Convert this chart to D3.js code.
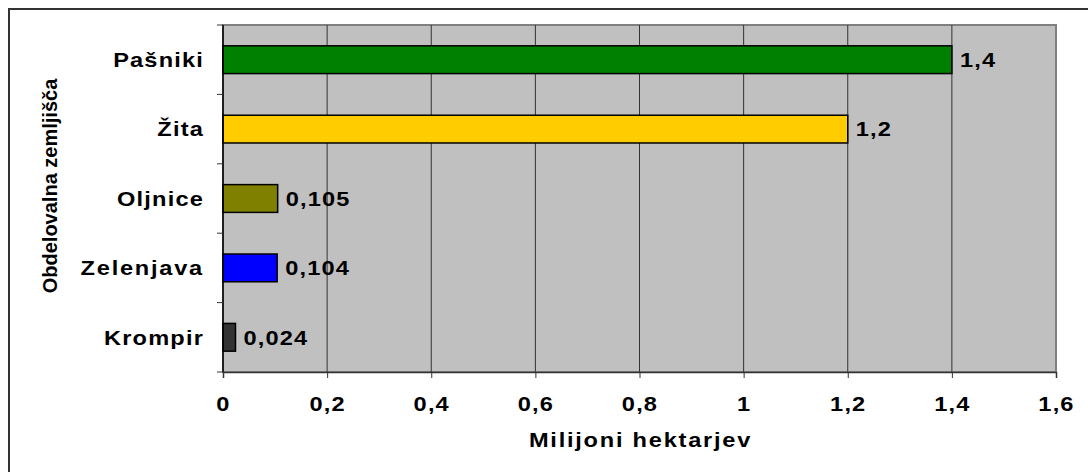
<!DOCTYPE html>
<head>
    <style>
        * { padding: 0; margin: 0; }
        body { background: #fff; }
        text { font-family: Arial, "Liberation Sans", sans-serif; font-weight: bold; fill: #000; }
    </style>
    <script src="https://cdn.jsdelivr.net/npm/d3@7"></script>
</head>
<body>
    <script>
        // DATA
        const categories = ["Pašniki", "Žita", "Oljnice", "Zelenjava", "Krompir"]
        const values = [1.4, 1.2, 0.105, 0.104, 0.024]
        const valueLabels = ["1,4", "1,2", "0,105", "0,104", "0,024"]
        const barColors = ["#008000", "#FFCC00", "#808000", "#0000FF", "#333333"]
        const xTicks = [0, 0.2, 0.4, 0.6, 0.8, 1, 1.2, 1.4, 1.6]

        const width = 1088, height = 472
        const margin = { top: 25, right: 32, bottom: 100, left: 223 }
        const fs = "20px"
        const stretch = 1.18   //the original text looks horizontally stretched

        const svg = d3.select("body").append("svg")
            .attr("width", width)
            .attr("height", height)

        //Outer frame: only top and left edges show
        svg.append("path")
            .attr("d", `M9,${height + 2} L9,9 L${width + 2},9`)
            .attr("fill", "none")
            .attr("stroke", "#333")
            .attr("stroke-width", 2)

        const x = d3.scaleLinear().domain([0, 1.6]).range([margin.left, width - margin.right])
        const y = d3.scaleBand().domain(categories).range([margin.top, height - margin.bottom])
            .paddingInner(0.6).paddingOuter(0.3)
        const yTickScale = d3.scaleLinear().domain([0, categories.length]).range([margin.top, height - margin.bottom])

        //Plot background
        svg.append("rect")
            .attr("x", x(0)).attr("y", margin.top)
            .attr("width", x(1.6) - x(0)).attr("height", height - margin.bottom - margin.top)
            .attr("fill", "#C0C0C0")
            .attr("stroke", "#808080").attr("stroke-width", 2)

        //Grid lines
        svg.append("g").selectAll("line")
            .data(xTicks.slice(1, -1))
            .join("line")
            .attr("x1", d => x(d)).attr("x2", d => x(d))
            .attr("y1", margin.top).attr("y2", height - margin.bottom)
            .attr("stroke", "#333").attr("stroke-width", 1)

        //Bars
        svg.append("g").selectAll("rect")
            .data(categories)
            .join("rect")
            .attr("x", x(0))
            .attr("y", d => y(d))
            .attr("width", (d, i) => x(values[i]) - x(0))
            .attr("height", y.bandwidth())
            .attr("fill", (d, i) => barColors[i])
            .attr("stroke", "#000").attr("stroke-width", 1.5)

        //Value labels
        svg.append("g").selectAll("text")
            .data(categories)
            .join("text")
            .attr("transform", (d, i) => `translate(${x(values[i]) + 8},${y(d) + y.bandwidth() / 2}) scale(${stretch},1)`)
            .attr("dy", "0.36em")
            .style("font-size", fs)
            .style("letter-spacing", "1px")
            .text((d, i) => valueLabels[i])

        //X axis
        const xAxis = svg.append("g")
            .attr("transform", `translate(0,${height - margin.bottom})`)
            .call(d3.axisBottom(x).tickValues(xTicks).tickSize(6).tickPadding(19)
                .tickFormat(d => String(d).replace(".", ",")))
        xAxis.select(".domain").attr("stroke", "#333").attr("stroke-width", 1.5)
        xAxis.selectAll(".tick line").attr("stroke", "#333")
        xAxis.selectAll("text")
            .attr("transform", `scale(${stretch},1)`)
            .style("font-size", fs)
            .style("font-family", "Arial, 'Liberation Sans', sans-serif")
            .style("font-weight", "bold")
            .style("letter-spacing", "1px")
            .attr("fill", "#000")

        //Y axis line and ticks between categories
        svg.append("line")
            .attr("x1", x(0)).attr("x2", x(0))
            .attr("y1", margin.top).attr("y2", height - margin.bottom)
            .attr("stroke", "#000").attr("stroke-width", 1.5)
        svg.append("g").selectAll("line")
            .data(d3.range(categories.length + 1))
            .join("line")
            .attr("x1", x(0) - 6).attr("x2", x(0))
            .attr("y1", d => yTickScale(d)).attr("y2", d => yTickScale(d))
            .attr("stroke", "#333")

        //Category labels
        svg.append("g").selectAll("text")
            .data(categories)
            .join("text")
            .attr("transform", d => `translate(${x(0) - 19},${y(d) + y.bandwidth() / 2}) scale(${stretch},1)`)
            .attr("dy", "0.36em")
            .attr("text-anchor", "end")
            .style("font-size", fs)
            .style("letter-spacing", d => d === "Zelenjava" ? "1.5px" : "1px")
            .text(d => d)

        //Axis titles
        svg.append("text")
            .attr("transform", `translate(${(x(0) + x(1.6)) / 2 + 1},447) scale(${stretch},1)`)
            .attr("text-anchor", "middle")
            .style("font-size", fs)
            .style("letter-spacing", "1.5px")
            .text("Milijoni hektarjev")

        svg.append("text")
            .attr("transform", `translate(57,186) rotate(-90)`)
            .attr("text-anchor", "middle")
            .style("font-size", fs)
            .text("Obdelovalna zemljišča")
    </script>
</body>
